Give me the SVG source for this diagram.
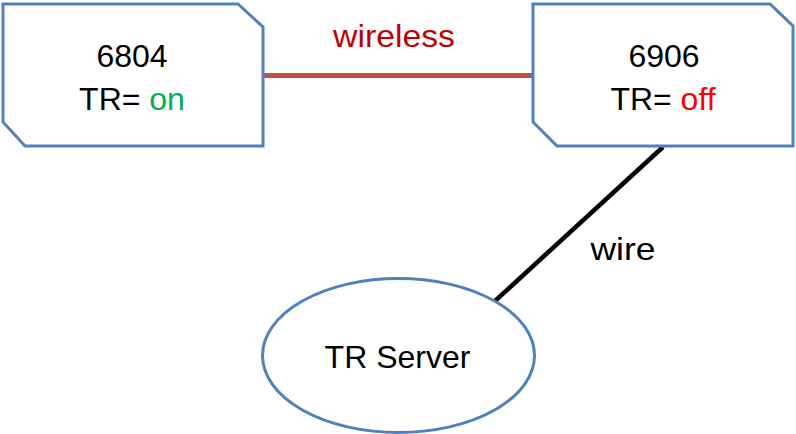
<svg xmlns="http://www.w3.org/2000/svg" width="796" height="434" viewBox="0 0 796 434">
<style>
.node{fill:#fff;stroke:#4F81BD;stroke-width:3;stroke-linejoin:miter}
text{font-family:"Liberation Sans",Arial,sans-serif;font-size:32px;fill:#000;text-anchor:middle}
.on{fill:#00B050}
.off{fill:#FF0000}
.lbl-wl{fill:#C00000}
</style>
<rect width="796" height="434" fill="#fff"/>
<g id="connectors">
<line x1="263" y1="75.5" x2="533" y2="75.5" stroke="#C0504D" stroke-width="5"/>
<line x1="663" y1="147" x2="495" y2="301" stroke="#000" stroke-width="4.5"/>
<text x="394" y="47" class="lbl-wl" textLength="122" lengthAdjust="spacingAndGlyphs">wireless</text>
<text x="623" y="260" textLength="65" lengthAdjust="spacingAndGlyphs">wire</text>
</g>
<g id="node-6804">
<path class="node" d="M3,4 H238 L263,27 V146 H25 L3,122 Z"/>
<text x="132" y="67">6804</text>
<text x="132" y="110">TR= <tspan class="on">on</tspan></text>
</g>
<g id="node-6906">
<path class="node" d="M533,4 H770 L793,26 V146 H557 L533,122 Z"/>
<text x="664" y="67">6906</text>
<text x="663" y="110">TR= <tspan class="off">off</tspan></text>
</g>
<g id="node-server">
<ellipse class="node" cx="398.5" cy="355.5" rx="136" ry="77"/>
<text x="397.5" y="368">TR Server</text>
</g>
</svg>
